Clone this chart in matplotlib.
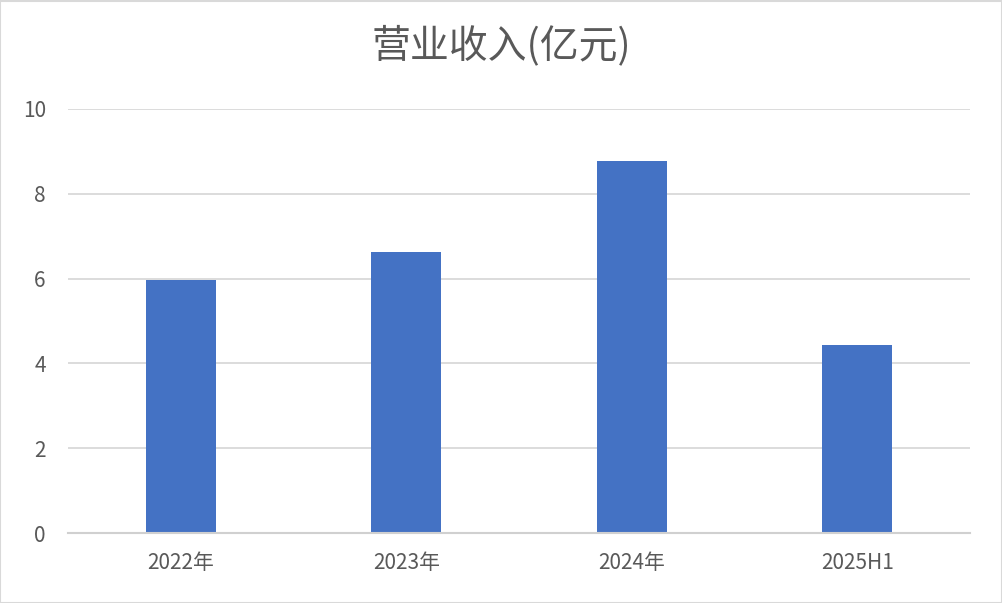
import matplotlib
matplotlib.use("Agg")
import matplotlib.pyplot as plt
from matplotlib.patches import Rectangle

plt.rcParams['font.family'] = ['Noto Sans CJK SC', 'DejaVu Sans']

categories = ["2022年", "2023年", "2024年", "2025H1"]
values = [5.97, 6.63, 8.77, 4.43]
yticks = [0, 2, 4, 6, 8, 10]
title = "营业收入(亿元)"

fig = plt.figure(figsize=(10.03, 6.03), dpi=100)
ax = fig.add_axes([68/1003, 70/603, 902/1003, 424/603])

x = list(range(len(categories)))
ax.bar(x, values, width=0.31, color="#4472C4", zorder=3)
ax.set_xlim(-0.5, len(categories) - 0.5)
ax.set_ylim(0, 10)
ax.set_yticks(yticks)
ax.set_yticklabels([str(v) for v in yticks])
ax.set_xticks(x)
ax.set_xticklabels(categories)

ax.grid(axis="y", color="#D9D9D9", linewidth=1.3, zorder=0)
for s in ["top", "right", "left"]:
    ax.spines[s].set_visible(False)
ax.spines["bottom"].set_color("#D0D0D0")
ax.spines["bottom"].set_linewidth(1.5)
ax.spines["bottom"].set_zorder(4)
ax.tick_params(axis="both", length=0, labelsize=15, labelcolor="#595959")
ax.tick_params(axis="y", pad=16)
ax.tick_params(axis="x", pad=14)

fig.text(0.5, 1 - 46/603, title, ha="center", va="center", fontsize=28, color="#595959")

fig.patches.append(Rectangle((0.5/1003, 0.5/603), 1 - 1/1003, 1 - 1/603, transform=fig.transFigure,
                             fill=False, edgecolor="#D9D9D9", linewidth=1.5))

fig.savefig("out.png", dpi=100)
